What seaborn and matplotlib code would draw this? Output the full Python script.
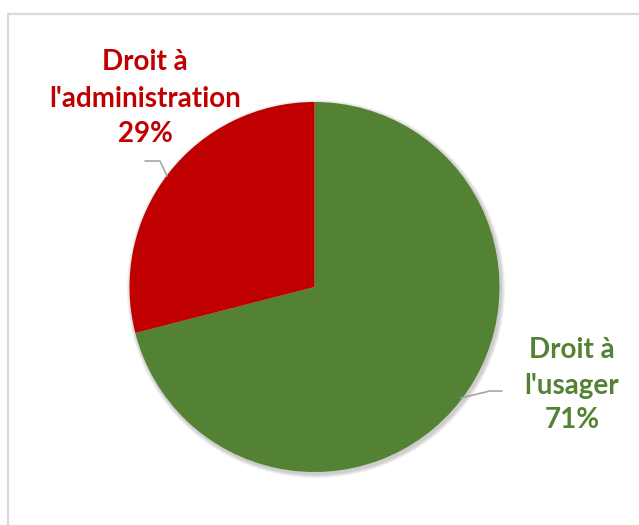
import matplotlib
matplotlib.use("Agg")
import matplotlib.pyplot as plt
import seaborn as sns
from matplotlib.patches import Circle

sns.set_style("white")
plt.rcParams["font.family"] = ["Lato", "DejaVu Sans"]

# Data
categories = ["Droit à l'usager", "Droit à l'administration"]
label_lines = [["Droit à", "l'usager"], ["Droit à", "l'administration"]]
values = [71, 29]
colors = ["#548235", "#C00000"]

W, H = 639, 525
fig = plt.figure(figsize=(W / 100, H / 100), dpi=100)
ax = fig.add_axes([0, 0, 1, 1])
ax.set_xlim(0, W)
ax.set_ylim(0, H)
ax.set_aspect("equal")
ax.axis("off")

cx, cy, r = 314.5, H - 287, 185

# soft drop shadow under the pie
for i, a in enumerate([0.05, 0.05, 0.05, 0.05]):
    ax.add_patch(Circle((cx + 1.5, cy - 2), r + 4 - i, color="#000000", alpha=a, lw=0, zorder=0))

ax.pie(values, colors=colors, startangle=90, counterclock=False,
       center=(cx, cy), radius=r, frame=True,
       wedgeprops=dict(linewidth=0, zorder=1))
ax.set_xlim(0, W)
ax.set_ylim(0, H)
ax.axis("off")

total = sum(values)
label_pos = [(572, [350, 386, 420]), (145, [62, 99, 134])]
for lines, v, c, (lx, ys) in zip(label_lines, values, colors, label_pos):
    texts = lines + [f"{v / total * 100:.0f}%"]
    for t, y in zip(texts, ys):
        ax.text(lx, H - y, t, ha="center", va="center", color=c,
                fontsize=20, fontweight="bold", zorder=3)

# leader lines
leaders = [[(461, 398), (490, 391), (502, 391)],
           [(145, 161), (160, 161), (167, 176)]]
for pts in leaders:
    ax.plot([p[0] for p in pts], [H - p[1] for p in pts], color="#A6A6A6", lw=1.2, zorder=2)

# chart-area frame (top and left edges)
ax.plot([8, 638], [H - 14, H - 14], color="#D9D9D9", lw=1.6, zorder=4, clip_on=False)
ax.plot([8, 8], [H - 14, 0], color="#D9D9D9", lw=1.6, zorder=4, clip_on=False)

fig.savefig("out.png", dpi=100)
